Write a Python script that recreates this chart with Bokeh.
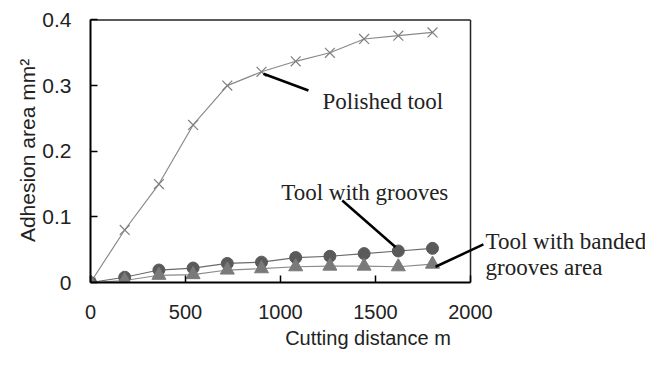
from bokeh.plotting import figure
from bokeh.models import Label, FixedTicker, Range1d
from bokeh.embed import file_html
from bokeh.resources import INLINE

distance = [0, 180, 360, 540, 720, 900, 1080, 1260, 1440, 1620, 1800]
polished = [0, 0.08, 0.15, 0.24, 0.30, 0.321, 0.337, 0.35, 0.371, 0.376, 0.381]
grooves = [0, 0.008, 0.019, 0.022, 0.029, 0.031, 0.038, 0.040, 0.044, 0.048, 0.052]
banded = [0, 0.003, 0.011, 0.012, 0.019, 0.021, 0.024, 0.025, 0.025, 0.024, 0.028]

x_ticks = [0, 500, 1000, 1500, 2000]
y_ticks = [0, 0.1, 0.2, 0.3, 0.4]
y_tick_labels = ["0", "0.1", "0.2", "0.3", "0.4"]
X_MAX = 2000
Y_MAX = 0.4

SANS = "Liberation Sans"
SERIF = "Liberation Serif"

# frame is widened to the right so that the notes outside the box are not clipped
p = figure(width=645, height=351, output_backend="svg", toolbar_location=None,
           x_range=Range1d(0, 2921), y_range=Range1d(0, 0.4022),
           min_border_left=90, min_border_right=0, min_border_top=18, min_border_bottom=67)
p.xgrid.visible = False
p.ygrid.visible = False
p.outline_line_color = None
p.background_fill_color = "white"
p.border_fill_color = "white"

for ax in (p.xaxis[0], p.yaxis[0]):
    ax.axis_line_color = "black"
    ax.axis_line_width = 2
    ax.major_tick_in = 7
    ax.major_tick_out = 0
    ax.minor_tick_in = 0
    ax.minor_tick_out = 0
    ax.major_tick_line_color = "black"
    ax.major_tick_line_width = 1.5
    ax.major_label_text_font = SANS
    ax.major_label_text_color = "#222222"
    ax.axis_label_text_font = SANS
    ax.axis_label_text_font_style = "normal"
    ax.axis_label_text_color = "#222222"

p.xaxis.bounds = (0, X_MAX)
p.yaxis.bounds = (0, Y_MAX)
p.xaxis.major_label_text_font_size = "20px"
p.xaxis.axis_label_text_font_size = "20px"
p.yaxis.major_label_text_font_size = "21px"
p.yaxis.axis_label_text_font_size = "21px"
p.xaxis.ticker = FixedTicker(ticks=x_ticks)
p.yaxis.ticker = FixedTicker(ticks=y_ticks)
p.yaxis.major_label_overrides = {t: l for t, l in zip(y_ticks, y_tick_labels)}
p.xaxis.axis_label = "Cutting distance m"
p.yaxis.axis_label = "Adhesion area mm²"
p.xaxis.major_label_standoff = 22
p.yaxis.major_label_standoff = 19
p.xaxis.axis_label_standoff = 5
p.yaxis.axis_label_standoff = 0

# box: top and right borders
p.segment(x0=[0, X_MAX], y0=[Y_MAX, 0], x1=[X_MAX, X_MAX], y1=[Y_MAX, Y_MAX],
          line_color="#222222", line_width=1.5)

# series
p.line(distance, polished, line_color="#8a8a8a", line_width=1.2)
p.scatter(distance, polished, marker="x", size=14, line_color="#808080", line_width=1.2)

p.line(distance, banded, line_color="#8a8a8a", line_width=1.2)
p.line(distance, grooves, line_color="#6a6a6a", line_width=1.2)
p.scatter(distance, grooves, marker="circle", size=12, fill_color="#5a5a5a", line_color="#5a5a5a")
p.scatter(distance, banded, marker="triangle", size=14, fill_color="#7a7a7a", line_color="#7a7a7a")

# annotations
def leader(x0, y0, x1, y1):
    p.segment(x0=[x0], y0=[y0], x1=[x1], y1=[y1], line_color="black", line_width=2.5)

def note(x, y, text):
    p.add_layout(Label(x=x, y=y, text=text, text_font=SERIF, text_font_size="23px",
                       text_color="#222222", text_baseline="alphabetic", text_align="left"))

leader(910, 0.318, 1147, 0.2925)
note(1221, 0.276, "Polished tool")
leader(1325, 0.125, 1605, 0.054)
note(1004, 0.137, "Tool with grooves")
leader(2068, 0.058, 1816, 0.024)
note(2079, 0.0627, "Tool with banded")
note(2079, 0.0228, "grooves area")

open("out.html", "w").write(file_html(p, INLINE))
